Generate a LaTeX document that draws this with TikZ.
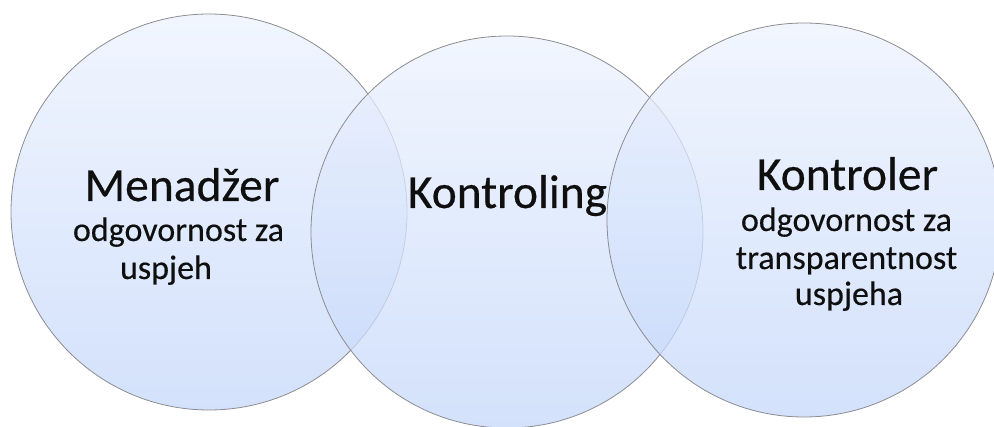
\documentclass[tikz,border=0pt]{standalone}
\usepackage{fontspec}
\setmainfont{Carlito}
\newfontfamily\heavyfont{Carlito}[FakeBold=0.35]
\definecolor{ctop}{RGB}{236,242,254}
\definecolor{cbot}{RGB}{196,215,250}
\definecolor{cedge}{RGB}{140,140,145}
\definecolor{ctext}{RGB}{15,15,15}
\begin{document}
\begin{tikzpicture}[x=1pt,y=-1pt,
  venn/.style={circle, inner sep=0pt, shade, top color=ctop, bottom color=cbot,
    fill opacity=0.75, draw=cedge, draw opacity=1, line width=0.8pt},
  big/.style={anchor=base, inner sep=0pt, text=ctext, font=\heavyfont\fontsize{47.5}{47.5}\selectfont},
  small/.style={anchor=base, inner sep=0pt, text=ctext, font=\heavyfont\fontsize{34}{34}\selectfont}]
\useasboundingbox (0,0) rectangle (994,427);
\node[venn, minimum size=396pt] (cl) at (209,212) {};
\node[venn, minimum size=392pt] (cm) at (507,232) {};
\node[venn, minimum size=394pt] (cr) at (804,220) {};
% left texts
\node[big] (t1) at (182,201) {Menadžer};
\node[small] (t2) at (178.5,241) {odgovornost za};
\node[small] (t3) at (166,279) {uspjeh};
% middle
\node[big] (t4) at (507.5,208) {Kontroling};
% right
\node[big] (t5) at (847.5,190) {Kontroler};
\node[small] (t6) at (846.5,231) {odgovornost za};
\node[small] (t7) at (846.5,269) {transparentnost};
\node[small] (t8) at (849,305) {uspjeha};
\end{tikzpicture}
\end{document}
